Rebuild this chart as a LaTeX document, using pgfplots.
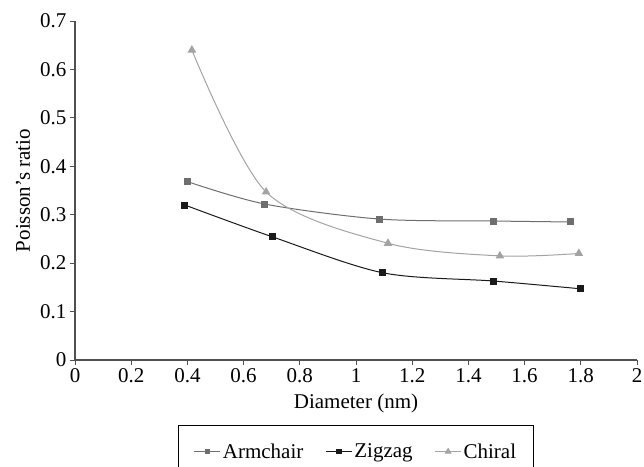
\documentclass[border=0pt]{standalone}
\usepackage{pgfplots}
\pgfplotsset{compat=1.18}
\usepackage{fontspec}
\setmainfont{Liberation Serif}
\newcommand{\cf}{\rmfamily\fontsize{21}{25}\selectfont}
\definecolor{armc}{HTML}{6E6E6E}
\definecolor{zigc}{HTML}{1A1A1A}
\definecolor{chic}{HTML}{A3A3A3}
\definecolor{axc}{HTML}{505050}
\begin{document}
\begin{tikzpicture}[font=\cf]
\begin{axis}[
  scale only axis,
  width=562pt, height=339pt,
  xmin=0, xmax=2, ymin=0, ymax=0.7,
  axis lines=left,
  axis line style={axc, line width=1.3pt, -},
  xtick={0,0.2,...,2}, ytick={0,0.1,...,0.7},
  xticklabels={0,0.2,0.4,0.6,0.8,1,1.2,1.4,1.6,1.8,2},
  yticklabels={0,0.1,0.2,0.3,0.4,0.5,0.6,0.7},
  tick align=outside, major tick length=5pt,
  tick style={axc, line width=0.9pt},
  tick label style={font=\cf},
  label style={font=\cf},
  /pgf/number format/assume math mode=true,
  xlabel={Diameter (nm)}, ylabel={Poisson's ratio},
  xlabel style={at={(axis description cs:0.5,-0.1268)}, anchor=center},
  ylabel style={at={(axis description cs:-0.0925,0.5)}, anchor=center},
  legend columns=3,
  legend style={at={(0.5,-0.192)}, anchor=north, draw=black, line width=0.9pt, font=\cf,
    /tikz/every even column/.append style={column sep=20pt},
    inner xsep=15pt, inner ysep=16pt},
  legend cell align=left,
  legend image code/.code={\draw[mark repeat=2,mark phase=2,#1] plot coordinates {(0pt,0pt) (13pt,0pt) (26pt,0pt)};},
  legend image post style={mark options={scale=0.75}},
]
\addplot[armc, line width=1pt, smooth, mark=square*, mark size=3pt]
  coordinates {(0.402,0.368) (0.676,0.322) (1.085,0.291) (1.491,0.287) (1.765,0.285)};
\addlegendentry{Armchair}
\addplot[zigc, line width=1pt, smooth, mark=square*, mark size=3pt]
  coordinates {(0.391,0.320) (0.704,0.254) (1.096,0.180) (1.491,0.163) (1.80,0.147)};
\addlegendentry{Zigzag}
\addplot[chic, line width=1pt, smooth, mark=triangle*, mark size=4pt]
  coordinates {(0.416,0.640) (0.680,0.347) (1.114,0.241) (1.512,0.215) (1.793,0.220)};
\addlegendentry{Chiral}
\end{axis}
\pgfresetboundingbox
\path ([shift={(-75pt,-106pt)}]current axis.south west) rectangle ([shift={(7pt,21pt)}]current axis.north east);
\end{tikzpicture}
\end{document}
